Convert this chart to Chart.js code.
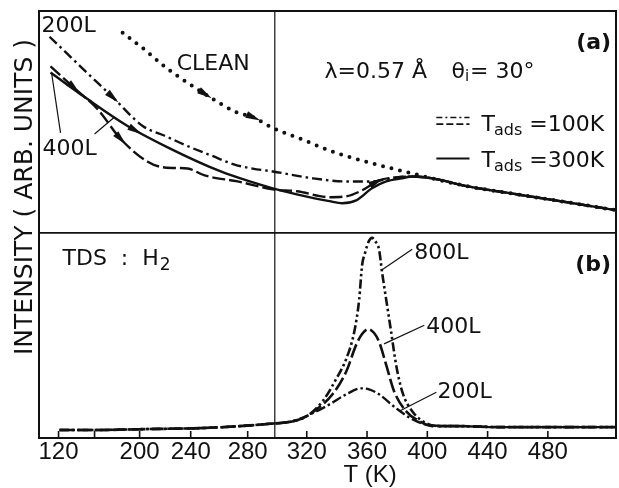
<!DOCTYPE html>
<html>
<head>
<meta charset="utf-8">
<script src="https://cdn.jsdelivr.net/npm/chart.js@4.4.1/dist/chart.umd.min.js"></script>
<style>
html,body{margin:0;padding:0;background:#ffffff;}
#wrap{width:619px;height:488px;overflow:hidden;}
canvas{display:block;}
</style>
</head>
<body>
<div id="wrap"><canvas id="c" width="619" height="488"></canvas></div>
<script>
// ---------- axis definition ----------
const TICK_VALUES = [120, 160, 200, 240, 280, 320, 360, 400, 440, 480];
const TICK_LABELS = ['120', '', '200', '240', '280', '320', '360', '400', '440', '480'];
// the temperature axis of the original is compressed below ~300 K
const AXIS_WARP_T = [120, 160, 200, 240, 280, 300, 320];
const AXIS_WARP_L = [155.3, 179.2, 209.1, 243.0, 280.8, 298.8, 320];
const X_MIN = 98.3, X_MAX = 525.2;
const T_ADS_LINE = 300;

// ---------- panel (a): specular intensity ----------
const a_clean_T = [184.9, 203.9, 220.4, 239.2, 254.7, 271.6, 283.7, 298.5, 317.5, 337.1, 356.7, 376.7, 390.0, 403.3, 426.0, 461.3, 494.7, 524.7];
const a_clean_I = [90.2, 82.6, 74.6, 67.0, 60.7, 54.5, 52.2, 47.3, 42.0, 36.6, 32.6, 29.0, 26.8, 24.6, 21.1, 17.2, 13.6, 10.3];

const a_200L_100K_T = [110.0, 143.3, 176.0, 202.4, 219.6, 236.8, 254.7, 270.8, 283.7, 298.5, 323.9, 346.2, 363.3, 379.3, 390.0, 403.3, 426.0, 461.3, 494.7, 524.7];
const a_200L_100K_I = [88.4, 75.4, 61.2, 48.2, 43.8, 39.3, 34.8, 30.8, 29.0, 27.7, 24.6, 23.2, 23.2, 25.0, 25.4, 24.6, 21.1, 17.2, 13.6, 10.3];

const a_400L_100K_T = [111.1, 137.8, 162.7, 183.1, 206.3, 219.6, 237.6, 249.8, 273.0, 298.5, 313.8, 335.1, 346.2, 356.7, 363.3, 368.0, 379.3, 390.0, 403.3, 426.0, 461.3, 494.7, 524.7];
const a_400L_100K_I = [75.0, 65.2, 55.8, 42.4, 32.1, 29.5, 29.0, 25.9, 23.2, 19.6, 18.8, 16.1, 16.5, 19.2, 21.9, 23.7, 25.0, 25.4, 24.6, 21.1, 17.2, 13.6, 10.3];

const a_400L_300K_T = [111.1, 152.2, 189.3, 224.3, 261.1, 281.5, 298.5, 313.8, 335.1, 343.6, 352.8, 363.3, 372.7, 383.3, 390.0, 403.3, 426.0, 461.3, 494.7, 524.7];
const a_400L_300K_I = [72.3, 60.3, 48.2, 37.9, 27.7, 23.2, 20.1, 17.4, 14.3, 13.4, 14.7, 20.1, 23.2, 24.6, 25.4, 24.6, 21.1, 17.2, 13.6, 10.3];

// ---------- panel (b): TDS of H2 ----------
const b_800L_T = [121.1, 164.4, 200.0, 246.3, 274.4, 294.1, 311.3, 320.0, 330.5, 339.7, 346.2, 351.5, 354.8, 356.7, 358.7, 361.3, 363.3, 365.3, 368.0, 370.0, 372.7, 376.0, 379.3, 383.3, 390.0, 399.3, 408.0, 421.3, 448.0, 488.0, 524.7];
const b_800L_I = [3.9, 3.9, 4.3, 4.8, 5.8, 6.8, 8.2, 10.6, 17.9, 29.0, 38.6, 51.7, 67.6, 84.1, 90.3, 96.1, 97.6, 96.1, 91.8, 80.7, 67.6, 51.7, 35.7, 22.7, 13.0, 7.2, 5.8, 5.8, 5.3, 5.3, 5.3];

const b_400L_T = [121.1, 164.4, 200.0, 246.3, 274.4, 294.1, 311.3, 317.5, 326.6, 337.1, 346.2, 352.8, 356.7, 360.7, 364.7, 368.0, 372.7, 378.0, 386.0, 394.7, 403.3, 421.3, 448.0, 488.0, 524.7];
const b_400L_I = [3.9, 3.9, 4.3, 4.8, 5.8, 6.8, 8.2, 9.7, 14.0, 21.3, 32.4, 45.4, 50.7, 53.1, 51.2, 46.9, 35.7, 22.7, 13.0, 8.2, 5.8, 5.8, 5.3, 5.3, 5.3];

const b_200L_T = [121.1, 164.4, 200.0, 246.3, 274.4, 294.1, 311.3, 323.9, 335.1, 346.2, 356.1, 361.3, 368.0, 379.3, 390.0, 401.3, 421.3, 448.0, 488.0, 524.7];
const b_200L_I = [3.9, 3.9, 4.3, 4.8, 5.8, 6.8, 8.2, 12.1, 16.4, 21.3, 24.2, 23.7, 21.3, 14.5, 9.2, 6.3, 5.8, 5.3, 5.3, 5.3];

// ---------- helpers ----------
const INK = '#111111';
const LABEL_FONT = '22px "DejaVu Sans", sans-serif';
const TICK_FONT_FAMILY = '"Liberation Sans Narrow", "Liberation Sans", sans-serif';

function warp(t) {
  const K = AXIS_WARP_T, L = AXIS_WARP_L, n = K.length;
  if (t <= K[0]) return L[0] + (t - K[0]) * (L[1] - L[0]) / (K[1] - K[0]);
  if (t >= K[n - 1]) return L[n - 1] + (t - K[n - 1]);
  for (let i = 0; i < n - 1; i++) {
    if (t <= K[i + 1]) return L[i] + (t - K[i]) * (L[i + 1] - L[i]) / (K[i + 1] - K[i]);
  }
}
function unwarp(l) {
  const K = AXIS_WARP_T, L = AXIS_WARP_L, n = K.length;
  if (l <= L[0]) return K[0] + (l - L[0]) * (K[1] - K[0]) / (L[1] - L[0]);
  if (l >= L[n - 1]) return K[n - 1] + (l - L[n - 1]);
  for (let i = 0; i < n - 1; i++) {
    if (l <= L[i + 1]) return K[i] + (l - L[i]) * (K[i + 1] - K[i]) / (L[i + 1] - L[i]);
  }
}

class WarpScale extends Chart.LinearScale {
  getPixelForValue(v) {
    if (v === null || v === undefined || isNaN(v)) return NaN;
    const a = warp(this.min), b = warp(this.max);
    return this.getPixelForDecimal((warp(v) - a) / (b - a));
  }
  getValueForPixel(p) {
    const a = warp(this.min), b = warp(this.max);
    return unwarp(a + this.getDecimalForPixel(p) * (b - a));
  }
}
WarpScale.id = 'warp';
WarpScale.defaults = Chart.LinearScale.defaults;
Chart.register(WarpScale);

function pts(T, I) { return T.map((t, i) => ({ x: t, y: I[i] })); }
function interp(T, I, t) {
  for (let i = 0; i < T.length - 1; i++) {
    if (t >= T[i] && t <= T[i + 1]) return I[i] + (I[i + 1] - I[i]) * (t - T[i]) / (T[i + 1] - T[i]);
  }
  return t < T[0] ? I[0] : I[I.length - 1];
}

const DS = [
  { label: 'CLEAN', T: a_clean_T, I: a_clean_I, axis: 'yA', dash: [0, 8.7], width: 4, cap: 'round' },
  { label: '200L (Tads=100K)', T: a_200L_100K_T, I: a_200L_100K_I, axis: 'yA', dash: [10, 4, 2.5, 4], width: 2.4 },
  { label: '400L (Tads=100K)', T: a_400L_100K_T, I: a_400L_100K_I, axis: 'yA', dash: [13, 4], width: 2.4 },
  { label: '400L (Tads=300K)', T: a_400L_300K_T, I: a_400L_300K_I, axis: 'yA', dash: [], width: 2.4 },
  { label: 'TDS 800L', T: b_800L_T, I: b_800L_I, axis: 'yB', dash: [9, 3, 2.5, 3, 2.5, 3], width: 2.6 },
  { label: 'TDS 400L', T: b_400L_T, I: b_400L_I, axis: 'yB', dash: [14, 4], width: 2.6 },
  { label: 'TDS 200L', T: b_200L_T, I: b_200L_I, axis: 'yB', dash: [10, 3, 2.5, 3], width: 2.4 }
];

// arrows on the curves (dataset index, temperature)
const ARROWS = [[0, 250], [0, 284], [1, 176], [2, 137], [2, 183], [3, 196], [2, 366]];

// text annotations: [text, T, value, axis]
const TEXTS = [
  ['200L', 101.0, 92.9, 'yA'],
  ['CLEAN', 229.0, 75.9, 'yA'],
  ['400L', 102.2, 37.9, 'yA'],
  ['800L', 391.3, 89.9, 'yB'],
  ['400L', 399.3, 54.1, 'yB'],
  ['200L', 406.7, 22.2, 'yB']
];
const LEADERS = [
  [122.2, 45.1, 112.2, 72.3, 'yA'],
  [160.0, 44.6, 177.8, 52.2, 'yA'],
  [370.0, 82.1, 390.0, 92.0, 'yB'],
  [371.3, 45.9, 398.0, 55.0, 'yB'],
  [381.3, 13.0, 406.0, 22.3, 'yB']
];

const figurePlugin = {
  id: 'figure',
  afterDatasetsDraw(chart) {
    const { ctx, chartArea: ca, scales } = chart;
    const x = scales.x, yA = scales.yA;
    const P = (t, v, ax) => [x.getPixelForValue(t), scales[ax].getPixelForValue(v)];
    const line = (x1, y1, x2, y2, w) => { ctx.lineWidth = w; ctx.beginPath(); ctx.moveTo(x1, y1); ctx.lineTo(x2, y2); ctx.stroke(); };
    ctx.save();
    ctx.strokeStyle = INK; ctx.fillStyle = INK; ctx.setLineDash([]); ctx.lineCap = 'butt';

    // frame, panel divider, T = 300 K line
    ctx.lineWidth = 2;
    ctx.strokeRect(ca.left, ca.top, ca.right - ca.left, ca.bottom - ca.top);
    line(ca.left, yA.bottom, ca.right, yA.bottom, 1.8);
    const x300 = x.getPixelForValue(T_ADS_LINE);
    line(x300, ca.top, x300, ca.bottom, 1.2);

    // inward tick marks on the temperature axis
    x.ticks.forEach(t => { const px = x.getPixelForValue(t.value); line(px, ca.bottom, px, ca.bottom - 7, 1.6); });

    // arrows
    ARROWS.forEach(([d, t]) => {
      const s = DS[d], ax = scales[s.axis];
      const p1 = [x.getPixelForValue(t - 3), ax.getPixelForValue(interp(s.T, s.I, t - 3))];
      const p2 = [x.getPixelForValue(t + 3), ax.getPixelForValue(interp(s.T, s.I, t + 3))];
      const c = [x.getPixelForValue(t), ax.getPixelForValue(interp(s.T, s.I, t))];
      const ang = Math.atan2(p2[1] - p1[1], p2[0] - p1[0]);
      ctx.save(); ctx.translate(c[0], c[1]); ctx.rotate(ang);
      ctx.beginPath(); ctx.moveTo(8, 0); ctx.lineTo(-7, -3.5); ctx.lineTo(-7, 3.5); ctx.closePath(); ctx.fill();
      ctx.restore();
    });

    // leader lines
    LEADERS.forEach(([t1, v1, t2, v2, ax]) => {
      const a = P(t1, v1, ax), b = P(t2, v2, ax);
      line(a[0], a[1], b[0], b[1], 1.2);
    });

    // labels
    ctx.font = LABEL_FONT; ctx.textAlign = 'left'; ctx.textBaseline = 'middle';
    TEXTS.forEach(([s, t, v, ax]) => { const p = P(t, v, ax); ctx.fillText(s, p[0], p[1]); });

    // panel (a) experimental conditions
    let p = P(331.8, 72.3, 'yA');
    ctx.fillText('λ=0.57 Å', p[0], p[1]);
    p = P(416.0, 72.3, 'yA');
    ctx.fillText('θ', p[0], p[1]);
    let w = ctx.measureText('θ').width;
    ctx.font = '15px "DejaVu Sans", sans-serif';
    ctx.fillText('i', p[0] + w, p[1] + 5);
    const wi = ctx.measureText('i').width;
    ctx.font = LABEL_FONT;
    ctx.fillText('= 30°', p[0] + w + wi + 1, p[1]);

    // legend of the adsorption temperature
    const legendRow = (tv, sym) => {
      const q = P(436.0, tv, 'yA');
      ctx.textBaseline = 'alphabetic';
      ctx.font = LABEL_FONT;
      ctx.fillText('T', q[0], q[1]);
      const wT = ctx.measureText('T').width;
      ctx.font = '16px "DejaVu Sans", sans-serif';
      ctx.fillText('ads', q[0] + wT - 1, q[1] + 4);
      const wa = ctx.measureText('ads').width;
      ctx.font = LABEL_FONT;
      ctx.fillText(sym, q[0] + wT + wa + 6, q[1]);
    };
    legendRow(46.0, '=100K');
    legendRow(29.5, '=300K');
    const l1 = x.getPixelForValue(406), l2 = x.getPixelForValue(428);
    ctx.setLineDash([6, 3, 2, 3]); line(l1, yA.getPixelForValue(52.0), l2, yA.getPixelForValue(52.0), 1.7);
    ctx.setLineDash([7, 3]); line(l1, yA.getPixelForValue(49.0), l2, yA.getPixelForValue(49.0), 1.7);
    ctx.setLineDash([]); line(l1, yA.getPixelForValue(33.5), l2, yA.getPixelForValue(33.5), 2);

    // panel tags
    ctx.textBaseline = 'middle';
    ctx.font = 'bold 22px "DejaVu Sans", sans-serif'; ctx.textAlign = 'right';
    p = P(522.0, 85.3, 'yA'); ctx.fillText('(a)', p[0], p[1]);
    p = P(522.0, 84.1, 'yB'); ctx.fillText('(b)', p[0], p[1]);

    // TDS : H2
    ctx.textAlign = 'left'; ctx.font = LABEL_FONT;
    p = P(124.4, 87.0, 'yB');
    ctx.fillText('TDS  :  H', p[0], p[1]);
    w = ctx.measureText('TDS  :  H').width;
    ctx.font = '17px "DejaVu Sans", sans-serif';
    ctx.fillText('2', p[0] + w + 1, p[1] + 6);

    // axis titles
    ctx.font = '24px ' + TICK_FONT_FAMILY; ctx.textAlign = 'center'; ctx.textBaseline = 'alphabetic';
    ctx.fillText('T (K)', x.getPixelForValue(362), ca.bottom + 44);
    ctx.save();
    ctx.translate(ca.left - 14, ca.top + 186);
    ctx.rotate(-Math.PI / 2);
    ctx.font = '25px "DejaVu Sans", sans-serif'; ctx.textBaseline = 'middle';
    ctx.fillText('INTENSITY ( ARB. UNITS )', 0, 0);
    ctx.restore();

    ctx.restore();
  }
};

new Chart(document.getElementById('c'), {
  type: 'line',
  data: {
    datasets: DS.map(s => ({
      label: s.label,
      data: pts(s.T, s.I),
      yAxisID: s.axis,
      borderColor: INK,
      borderWidth: s.width,
      borderDash: s.dash,
      borderCapStyle: s.cap || 'butt',
      pointRadius: 0,
      fill: false,
      cubicInterpolationMode: 'monotone'
    }))
  },
  options: {
    responsive: false,
    animation: false,
    layout: { padding: { left: 39, right: 3, top: 11, bottom: 22 } },
    plugins: { legend: { display: false }, tooltip: { enabled: false } },
    scales: {
      x: {
        type: 'warp', min: X_MIN, max: X_MAX, bounds: 'data',
        afterBuildTicks: s => { s.ticks = TICK_VALUES.map(v => ({ value: v })); },
        ticks: {
          autoSkip: false, maxRotation: 0, minRotation: 0,
          callback: (v, i) => TICK_LABELS[i],
          color: INK, padding: 2,
          font: { family: TICK_FONT_FAMILY, size: 24, lineHeight: 1 }
        },
        grid: { display: false, drawTicks: false },
        border: { display: false }
      },
      yB: { type: 'linear', position: 'left', stack: 'panels', stackWeight: 207, min: 0, max: 100, display: false },
      yA: { type: 'linear', position: 'left', stack: 'panels', stackWeight: 224, min: 0, max: 100, display: false }
    }
  },
  plugins: [figurePlugin]
});
</script>
</body>
</html>
